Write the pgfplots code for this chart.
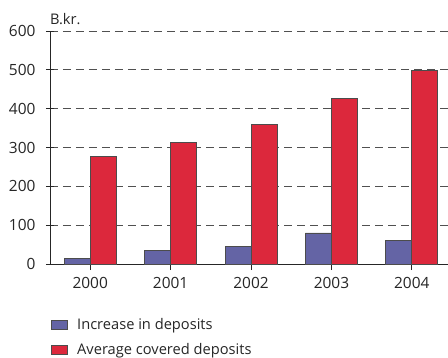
\documentclass[border=0pt]{standalone}
\usepackage{pgfplots}
\pgfplotsset{compat=1.18}
\usepackage{fontspec}
\setmainfont{Open Sans}
\definecolor{barblue}{RGB}{100,100,165}
\definecolor{barred}{RGB}{220,40,60}
\definecolor{gridc}{RGB}{80,80,80}
\begin{document}
\begin{tikzpicture}
\begin{axis}[
  scale only axis,
  width=398bp, height=233bp,
  ymin=0, ymax=600,
  xmin=-0.5, xmax=4.45,
  ytick={0,100,...,600},
  xtick=data,
  xticklabels={2000,2001,2002,2003,2004},
  axis lines*=left,
  axis line style={line width=0.9pt, black!85},
  ybar=0pt, bar width=26bp,
  ymajorgrids,
  grid style={gridc, dash pattern=on 8bp off 5bp, line width=0.8pt},
  tick style={black!85, line width=0.9pt},
  xtick align=outside,
  ytick align=center,
  major tick length=8bp,
  xtick style={/pgfplots/major tick length=6bp},
  tick label style={font=\fontsize{15.5}{18}\selectfont, text=black!85},
  /pgf/number format/assume math mode=true,
  yticklabel style={xshift=-7bp},
  xticklabel style={yshift=-2bp},
  legend style={at={(0.0,-0.225)}, anchor=north west, draw=none, fill=none,
    font=\fontsize{14.7}{17}\selectfont, text=black!85,
    row sep=8bp, inner sep=0pt, nodes={inner sep=2bp}},
  legend cell align=left,
  legend image code/.code={\path[draw=none, fill=none] (0bp,0bp) -- (25bp,0bp); \draw[#1, draw=black!70, line width=0.6pt] (1bp,-4.5bp) rectangle (17bp,4.5bp);},
  clip=false,
]
\addplot[fill=barblue, draw=black!70, line width=0.7pt] coordinates {(0,15) (1,36) (2,46) (3,80) (4,60)};
\addplot[fill=barred, draw=black!70, line width=0.7pt] coordinates {(0,276) (1,314) (2,360) (3,427) (4,499)};
\legend{Increase in deposits, Average covered deposits}
\node[anchor=south west, font=\fontsize{14.7}{17}\selectfont, text=black!85, inner sep=0pt] at ([yshift=6bp]rel axis cs:0,1) {B.kr.};
\end{axis}
\pgfresetboundingbox
\path[use as bounding box] ([xshift=-50bp,yshift=-94bp]current axis.south west) rectangle ([yshift=31bp]current axis.north east);
\end{tikzpicture}
\end{document}
